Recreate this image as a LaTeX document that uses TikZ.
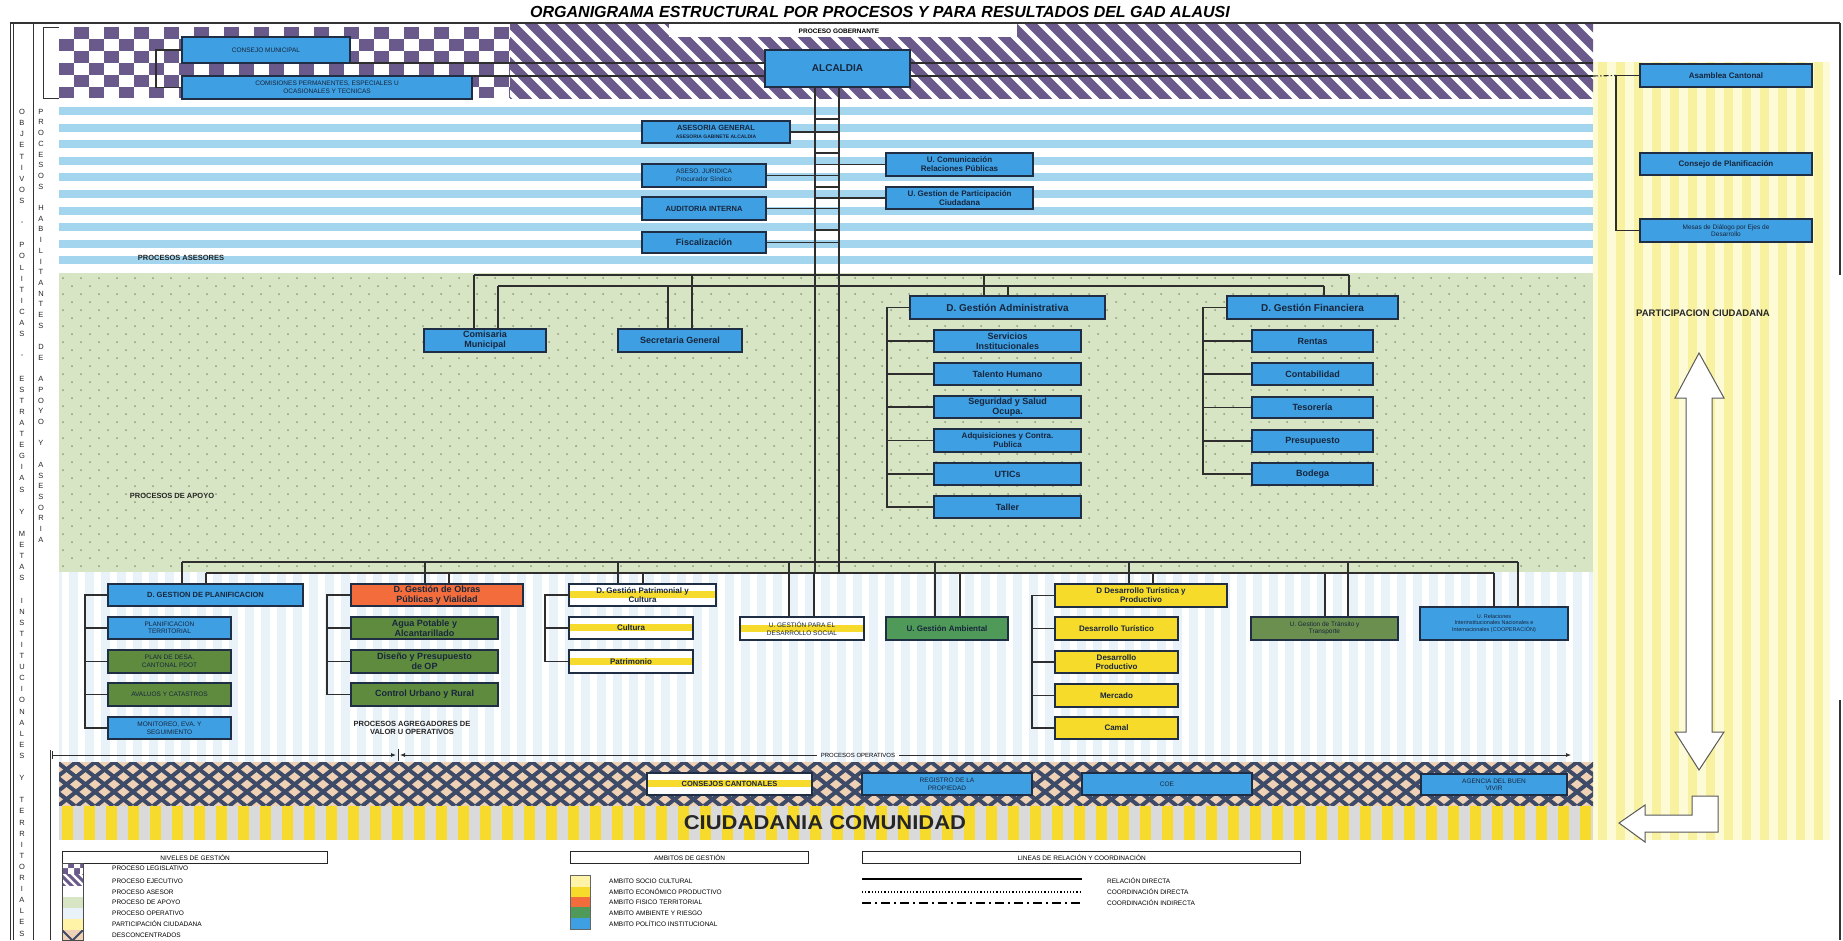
\documentclass[tikz,border=0pt]{standalone}
\usepackage{fontspec}
\setmainfont{Liberation Sans}
\usetikzlibrary{calc,arrows.meta}
\definecolor{purp}{HTML}{6A5A8C}
\definecolor{stripeblue}{HTML}{A3D5EE}
\definecolor{apoyo}{HTML}{D7E5C4}
\definecolor{dotc}{HTML}{8E9C78}
\definecolor{operat}{HTML}{E9F2F9}
\definecolor{peach}{HTML}{EFD2B6}
\definecolor{navy}{HTML}{3E4B68}
\definecolor{yelbar}{HTML}{F6DA2C}
\definecolor{lgrey}{HTML}{DADADA}
\definecolor{pyel}{HTML}{FDFBD6}
\definecolor{pyel2}{HTML}{F8F1A0}
\definecolor{bxblue}{HTML}{3E9FE2}
\definecolor{bxgreen}{HTML}{5F8B3E}
\definecolor{bxgreen2}{HTML}{4F9A58}
\definecolor{bxgreen3}{HTML}{6B8F4E}
\definecolor{bxorange}{HTML}{F26D3B}
\definecolor{bxyellow}{HTML}{F7DB2A}
\definecolor{bxedge}{HTML}{1F2E44}
\definecolor{txt}{HTML}{17263D}
\definecolor{conn}{HTML}{2E2E2E}
\definecolor{lsyel}{HTML}{FFF3A8}
\tikzset{
 bx/.style={draw=bxedge, line width=1.2pt, inner sep=0.5pt, outer sep=0pt, align=center, text=txt, font=\bfseries\fontsize{9}{10}\selectfont},
 bl/.style={fill=bxblue},
 gr/.style={fill=bxgreen},
 gr2/.style={fill=bxgreen2},
 gr3/.style={fill=bxgreen3},
 orng/.style={fill=bxorange},
 yel/.style={fill=bxyellow},
 wy/.style={fill=white, path picture={\fill[yelbar] ([yshift=4pt]path picture bounding box.west) rectangle ([yshift=-3pt]path picture bounding box.east);}},
 sm/.style={font=\fontsize{6.5}{7.5}\selectfont},
 smb/.style={font=\bfseries\fontsize{7.5}{8.5}\selectfont},
 mid/.style={font=\bfseries\fontsize{8}{9}\selectfont},
 tiny/.style={font=\fontsize{5.5}{6.5}\selectfont},
 cn/.style={draw=conn, line width=1.1pt},
 lbl/.style={font=\bfseries\fontsize{7.5}{8.5}\selectfont, text=black!85, align=center},
 leg/.style={font=\fontsize{6.5}{7}\selectfont, anchor=west, inner sep=0pt},
 vt/.style={font=\fontsize{7.5}{8}\selectfont, inner sep=0pt, text=black!85},
 legbox/.style={draw=black!85, line width=1.3pt, anchor=north west, inner sep=0pt, font=\fontsize{6.5}{7}\selectfont, minimum height=12},
}
\newcommand\obox[7]{\node[bx,#6,minimum width={(#4)-(#2)},minimum height={(#5)-(#3)},anchor=north west] (#1) at (#2,#3) {#7};}
\begin{document}
\begin{tikzpicture}[x=1pt,y=-1pt]
\useasboundingbox (0,0) rectangle (1843,940);
\fill[white] (0,0) rectangle (1843,940);

% ---------- right column (participacion)
\fill[pyel] (1593,62) rectangle (1830,840);
\foreach \x in {1598,1616,...,1830} \fill[pyel2] (\x,62) rectangle ++(9,778);

% ---------- top band : checker
\begin{scope}
\clip (59,27) rectangle (510,98);
\fill[purp] (59,27) rectangle (510,98);
\foreach \j in {0,...,5}{
  \pgfmathtruncatemacro\off{mod(\j,2)}
  \foreach \i in {0,...,15}{
    \fill[white] ({59+(2*\i+\off)*15},{27+\j*12}) rectangle ++(15,12);
  }}
\end{scope}
% diagonal stripes
\begin{scope}
\clip (510,23) rectangle (1593,98);
\foreach \x in {420,440,...,1600}
  \draw[purp, line width=9pt] (\x,13) -- ++(95,95);
\end{scope}
\fill[white] (669,23) rectangle (1017,37);

% ---------- asesores
\fill[white] (59,100) rectangle (1593,273);
\foreach \k in {0,...,9} \fill[stripeblue] (59,{107+\k*16.6}) rectangle (1593,{115+\k*16.6});

% ---------- apoyo
\fill[apoyo] (59,273) rectangle (1593,572);
\fill[dotc] \foreach \j in {0,...,36}{ \foreach \i in {0,...,84}{ ({63+\i*18+mod(\j,2)*9},{278+\j*8}) circle (1.0) } };

% ---------- operativos
\fill[operat] (59,572) rectangle (1593,762);
\foreach \x in {62,78,...,1590} \fill[white] (\x,572) rectangle ++(7,190);

% ---------- desconcentrados
\begin{scope}
\clip (59,762) rectangle (1593,806);
\fill[peach] (59,762) rectangle (1593,806);
\foreach \x in {0,19,...,1660} {
  \draw[navy, line width=4pt] (\x,762) -- ++(56,44);
  \draw[navy, line width=4pt] (\x,762) -- ++(-56,44);
}
\end{scope}

% ---------- ciudadania
\fill[lgrey] (59,806) rectangle (1593,840);
\foreach \x in {62,84,...,1590} \fill[yelbar] (\x,806) rectangle ++(11,34);

% ---------- frame
\draw[black!80, line width=1.2pt] (10,23) -- (1840,23);
\draw[black!80, line width=1pt] (10,23) -- (10,940) (13,23) -- (13,940) (33,23) -- (33,940);
\draw[black!80, line width=1pt] (50,750) -- (50,940);
\draw[black!80, line width=1.2pt] (1840,23) -- (1840,275) (1840,700) -- (1840,940);
\draw[black!80, line width=1pt] (59,27) -- (43,27) -- (43,98) -- (59,98);

% ---------- vertical stacked texts
\foreach \c [count=\i] in {O,B,J,E,T,I,V,O,S,,-,,P,O,L,I,T,I,C,A,S,,-,,E,S,T,R,A,T,E,G,I,A,S,,Y,,M,E,T,A,S,,I,N,S,T,I,T,U,C,I,O,N,A,L,E,S,,Y,,T,E,R,R,I,T,O,R,I,A,L,E,S}
  \node[vt] at (22,{101+\i*11.1}) {\c};
\foreach \c [count=\i] in {P,R,O,C,E,S,O,S,,H,A,B,I,L,I,T,A,N,T,E,S,,D,E,,A,P,O,Y,O,,Y,,A,S,E,S,O,R,I,A}
  \node[vt] at (41,{101+\i*10.7}) {\c};

% ---------- titles and labels
\node[font=\bfseries\itshape\fontsize{16}{18}\selectfont, inner sep=0pt] (title) at (880,12) {ORGANIGRAMA ESTRUCTURAL POR PROCESOS Y PARA RESULTADOS DEL GAD ALAUSI};
\node[font=\bfseries\fontsize{6.5}{7}\selectfont] (gob) at (839,31) {PROCESO GOBERNANTE};
\node[lbl] (lasesor) at (181,258) {PROCESOS ASESORES};
\node[lbl] (lapoyo) at (172,496) {PROCESOS DE APOYO};
\node[lbl] (lagreg) at (412,728) {PROCESOS AGREGADORES DE\\VALOR U OPERATIVOS};
\node[lbl, font=\bfseries\fontsize{9.5}{10}\selectfont] (lpart) at (1703,313) {PARTICIPACION CIUDADANA};
\node[font=\fontsize{6}{7}\selectfont, inner sep=4pt] (lops) at (858,755) {PROCESOS OPERATIVOS};
\node[font=\bfseries\fontsize{20}{22}\selectfont, text=black!85] (ciud) at (825,823) {\scalebox{1.1}[1]{CIUDADANIA COMUNIDAD}};

% ---------- boxes
\obox{consejo}{182}{37}{350}{63}{bl,sm}{CONSEJO MUNICIPAL}
\obox{comisiones}{182}{76}{472}{99}{bl,sm}{COMISIONES PERMANENTES, ESPECIALES U\\OCASIONALES Y TECNICAS}
\obox{alcaldia}{765}{50}{910}{87}{bl,font=\bfseries\fontsize{10}{11}\selectfont}{ALCALDIA}

\obox{asesoria}{642}{121}{790}{143}{bl,smb}{ASESORIA GENERAL\\{\fontsize{5}{6}\selectfont ASESORIA GABINETE ALCALDIA}}
\obox{juridica}{642}{164}{766}{187}{bl,sm}{ASESO. JURIDICA\\Procurador Síndico}
\obox{auditoria}{642}{197}{766}{220}{bl,smb}{AUDITORIA INTERNA}
\obox{fiscal}{642}{232}{766}{253}{bl}{Fiscalización}
\obox{comunic}{886}{153}{1033}{176}{bl,mid}{U. Comunicación\\Relaciones Públicas}
\obox{particip}{886}{187}{1033}{209}{bl,mid}{U. Gestion de Participación\\Ciudadana}

\obox{comisaria}{424}{329}{546}{352}{bl}{Comisaria\\Municipal}
\obox{secretaria}{618}{329}{742}{352}{bl}{Secretaria General}
\obox{dadm}{910}{296}{1105}{319}{bl,font=\bfseries\fontsize{10}{11}\selectfont}{D. Gestión Administrativa}
\obox{servicios}{934}{330}{1081}{352}{bl}{Servicios\\Institucionales}
\obox{talento}{934}{363}{1081}{385}{bl}{Talento Humano}
\obox{seguridad}{934}{396}{1081}{418}{bl}{Seguridad y Salud\\Ocupa.}
\obox{adquis}{934}{429}{1081}{452}{bl,mid}{Adquisiciones y Contra.\\Publica}
\obox{utics}{934}{463}{1081}{485}{bl}{UTICs}
\obox{taller}{934}{496}{1081}{518}{bl}{Taller}
\obox{dfin}{1227}{296}{1398}{319}{bl,font=\bfseries\fontsize{10}{11}\selectfont}{D. Gestión Financiera}
\obox{rentas}{1252}{330}{1373}{352}{bl}{Rentas}
\obox{contab}{1252}{363}{1373}{385}{bl}{Contabilidad}
\obox{tesor}{1252}{397}{1373}{418}{bl}{Tesorería}
\obox{presup}{1252}{430}{1373}{452}{bl}{Presupuesto}
\obox{bodega}{1252}{463}{1373}{485}{bl}{Bodega}

\obox{dplan}{108}{584}{303}{606}{bl,smb}{D. GESTION DE PLANIFICACION}
\obox{plant}{108}{617}{231}{639}{bl,sm}{PLANIFICACION\\TERRITORIAL}
\obox{pdot}{108}{650}{231}{673}{gr,sm}{PLAN DE DESA.\\CANTONAL PDOT}
\obox{avaluos}{108}{683}{231}{706}{gr,sm}{AVALUOS Y CATASTROS}
\obox{monit}{108}{717}{231}{739}{bl,sm}{MONITOREO, EVA. Y\\SEGUIMIENTO}
\obox{dobras}{351}{584}{523}{606}{orng}{D. Gestión de Obras\\Públicas y Vialidad}
\obox{agua}{351}{617}{498}{639}{gr}{Agua Potable y\\Alcantarillado}
\obox{diseno}{351}{650}{498}{673}{gr}{Diseño y Presupuesto\\de OP}
\obox{control}{351}{683}{498}{706}{gr}{Control Urbano y Rural}
\obox{dpatri}{569}{584}{716}{606}{wy,mid}{D. Gestión Patrimonial y\\Cultura}
\obox{cultura}{569}{617}{693}{639}{wy,mid}{Cultura}
\obox{patrim}{569}{650}{693}{673}{wy,mid}{Patrimonio}
\obox{dsocial}{740}{617}{864}{640}{wy,sm}{U. GESTIÓN PARA EL\\DESARROLLO SOCIAL}
\obox{ambiental}{886}{617}{1008}{640}{gr2,mid}{U. Gestión Ambiental}
\obox{dturis}{1055}{584}{1227}{607}{yel,mid}{D Desarrollo Turística y\\Productivo}
\obox{desturis}{1055}{617}{1178}{640}{yel,mid}{Desarrollo Turístico}
\obox{desprod}{1055}{651}{1178}{673}{yel,mid}{Desarrollo\\Productivo}
\obox{mercado}{1055}{684}{1178}{707}{yel,mid}{Mercado}
\obox{camal}{1055}{717}{1178}{739}{yel,mid}{Camal}
\obox{transito}{1251}{617}{1398}{640}{gr3,sm}{U. Gestion de Tránsito y\\Transporte}
\obox{relac}{1420}{607}{1568}{640}{bl,tiny}{U. Relaciones\\Interinstitucionales Nacionales e\\Internacionales (COOPERACIÓN)}

\obox{consejos}{647}{773}{812}{795}{wy,smb}{CONSEJOS CANTONALES}
\obox{registro}{862}{773}{1032}{795}{bl,sm}{REGISTRO DE LA\\PROPIEDAD}
\obox{coe}{1082}{773}{1252}{795}{bl,sm}{COE}
\obox{agencia}{1421}{774}{1567}{795}{bl,sm}{AGENCIA DEL BUEN\\VIVIR}

\obox{asamblea}{1640}{64}{1812}{87}{bl,mid}{Asamblea Cantonal}
\obox{consplan}{1640}{153}{1812}{175}{bl,mid}{Consejo de Planificación}
\obox{mesas}{1640}{219}{1812}{242}{bl,sm}{Mesas de Diálogo por Ejes de\\Desarrollo}

% ---------- connectors: gobernante
\coordinate (bandR1) at (1593,63);
\coordinate (bandR2) at (1593,76);
\draw[cn] (consejo.west) -- ++(-26,0) |- (comisiones.west);
\draw[cn] (consejo.south east) -- (consejo.south east -| alcaldia.west);
\draw[cn] (comisiones.north east) -- (comisiones.north east -| alcaldia.west);
\draw[cn] (alcaldia.east |- bandR1) -- (bandR1);
\draw[cn] (alcaldia.east |- bandR2) -- (bandR2);
\draw[cn, dash pattern=on 5pt off 2pt on 1.5pt off 2pt] (bandR2) -- ($(asamblea.west)+(-24,0)$);
\draw[cn] (asamblea.west) -- ++(-24,0) |- (mesas.west);

% ---------- main verticals and buses
\coordinate (vA) at (815,0);
\coordinate (vB) at (839,0);
\coordinate (apA) at (474,275);  \coordinate (apAe) at (1349,275);
\coordinate (apB) at (498,286);  \coordinate (apBe) at (1324,286);
\coordinate (opA) at (182,562);  \coordinate (opAe) at (1518,562);
\coordinate (opB) at (206,573);  \coordinate (opBe) at (1494,573);
\draw[cn] (alcaldia.south -| vA) -- (vA |- opB);
\draw[cn] (alcaldia.south -| vB) -- (vB |- opB);
\draw[cn] (apA) -- (apAe);
\draw[cn] (apB) -- (apBe);
\draw[cn] (opA) -- (opAe);
\draw[cn] (opB) -- (opBe);

% asesores
\draw[cn] (asesoria.east) -- (asesoria.east -| vB);
\draw[cn] (juridica.east) -- (juridica.east -| vB);
\draw[cn] (auditoria.east) -- (auditoria.east -| vB);
\draw[cn] (fiscal.east) -- (fiscal.east -| vB);
\draw[cn] (comunic.west) -- (comunic.west -| vA);
\draw[cn] (particip.west) -- (particip.west -| vA);
\foreach \yy in {119,153,187,230} \draw[cn] (vA |- 0,\yy) -- (vB |- 0,\yy);

% apoyo drops
\draw[cn] ($(comisaria.north)+(-11,0)$) |- (apA);
\draw[cn] ($(comisaria.north)+(13,0)$) |- (apB);
\draw[cn] ($(secretaria.north)+(-12,0)$) |- (apB);
\draw[cn] ($(secretaria.north)+(12,0)$) |- (apA);
\draw[cn] ($(dadm.north)+(-23.5,0)$) |- (apA);
\draw[cn] ($(dadm.north)+(0.5,0)$) |- (apB);
\draw[cn] ($(dfin.north)+(11.5,0)$) |- (apBe);
\draw[cn] ($(dfin.north)+(36.5,0)$) |- (apAe);
% apoyo brackets
\draw[cn] (dadm.west) -- ++(-23,0) |- (taller.west);
\foreach \n in {servicios,talento,seguridad,adquis,utics} \draw[cn] (\n.west) -- ++(-47,0);
\draw[cn] (dfin.west) -- ++(-24,0) |- (bodega.west);
\foreach \n in {rentas,contab,tesor,presup} \draw[cn] (\n.west) -- ++(-49,0);

% operativos drops
\draw[cn] ($(dplan.north)+(-23.5,0)$) |- (opA);
\draw[cn] ($(dplan.north)+(0.5,0)$) |- (opB);
\draw[cn] ($(dobras.north)+(-12,0)$) |- (opA);
\draw[cn] ($(dobras.north)+(12,0)$) |- (opB);
\draw[cn] ($(dpatri.north)+(-24.5,0)$) |- (opA);
\draw[cn] ($(dpatri.north)+(0.5,0)$) |- (opB);
\draw[cn] ($(dsocial.north)+(-13,0)$) |- (opA);
\draw[cn] ($(dsocial.north)+(12,0)$) |- (opB);
\draw[cn] ($(ambiental.north)+(-12,0)$) |- (opA);
\draw[cn] ($(ambiental.north)+(13,0)$) |- (opB);
\draw[cn] ($(dturis.north)+(-12,0)$) |- (opA);
\draw[cn] ($(dturis.north)+(12,0)$) |- (opB);
\draw[cn] ($(transito.north)+(0.5,0)$) |- (opBe);
\draw[cn] ($(transito.north)+(23.5,0)$) |- (opAe);
\draw[cn] ($(relac.north)+(0,0)$) |- (opBe);
\draw[cn] ($(relac.north)+(24,0)$) |- (opAe);
% operativos brackets
\draw[cn] (dplan.west) -- ++(-23,0) |- (monit.west);
\foreach \n in {plant,pdot,avaluos} \draw[cn] (\n.west) -- ++(-23,0);
\draw[cn] (dobras.west) -- ++(-24,0) |- (control.west);
\foreach \n in {agua,diseno} \draw[cn] (\n.west) -- ++(-24,0);
\draw[cn] (dpatri.west) -- ++(-24,0) |- (patrim.west);
\draw[cn] (cultura.west) -- ++(-24,0);
\draw[cn] (dturis.west) -- ++(-23,0) |- (camal.west);
\foreach \n in {desturis,desprod,mercado} \draw[cn] (\n.west) -- ++(-23,0);

% ---------- operative arrow line
\coordinate (arL) at (52,755);
\coordinate (arM) at (398,755);
\coordinate (arR) at (1571,755);
\draw[conn, line width=0.8pt, -{Latex[length=5pt,width=4pt]}] (arL) -- ($(arM)+(-2,0)$);
\draw[conn, line width=0.8pt, -{Latex[length=5pt,width=4pt]}] (lops.west) -- ($(arM)+(2,0)$);
\draw[conn, line width=0.8pt, -{Latex[length=5pt,width=4pt]}] (lops.east) -- (arR);
\draw[conn, line width=1pt] ($(arM)+(0,-6)$) -- ($(arM)+(0,6)$);
\draw[conn, line width=1pt] ($(arL)+(0,-4)$) -- ($(arL)+(0,4)$);

% ---------- big arrows in participation column
\draw[fill=white, draw=black!65, line width=1pt] (1699,353) -- (1724,398) -- (1712,398) -- (1712,732) -- (1724,732) -- (1699,770) -- (1675,732) -- (1686,732) -- (1686,398) -- (1675,398) -- cycle;
\draw[fill=white, draw=black!65, line width=1pt] (1692,796) -- (1718,796) -- (1718,832) -- (1645,832) -- (1645,842) -- (1619,823) -- (1645,805) -- (1645,815) -- (1692,815) -- cycle;

% ---------- legend
\node[legbox, minimum width=265] (hniv) at (62,851) {NIVELES DE GESTIÓN};
\node[legbox, minimum width=238] (hamb) at (570,851) {AMBITOS DE GESTIÓN};
\node[legbox, minimum width=438] (hlin) at (862,851) {LINEAS DE RELACIÓN Y COORDINACIÓN};
% left swatches
\begin{scope}
\clip (62,863) rectangle (83,874);
\fill[purp] (62,863) rectangle (83,874);
\fill[white] (62,863) rectangle (68,868) (74,863) rectangle (80,868) (68,868) rectangle (74,874) (80,868) rectangle (86,874);
\end{scope}
\begin{scope}
\clip (62,874) rectangle (83,886);
\fill[white] (62,874) rectangle (83,886);
\foreach \x in {50,58,...,86} \draw[purp, line width=3pt] (\x,872) -- ++(16,16);
\end{scope}
\fill[white] (62,886) rectangle (83,897);
\fill[apoyo] (62,897) rectangle (83,908);
\fill[operat] (62,908) rectangle (83,919);
\fill[lsyel] (62,919) rectangle (83,930);
\begin{scope}
\clip (62,930) rectangle (83,940);
\fill[peach] (62,930) rectangle (83,940);
\draw[navy, line width=2pt] (62,930) -- (72,940) (83,930) -- (73,940);
\end{scope}
\draw[black!70, line width=0.8pt] (62,863) rectangle (83,940);
\node[leg] (l1) at (112,868) {PROCESO LEGISLATIVO};
\node[leg] (l2) at (112,881) {PROCESO EJECUTIVO};
\node[leg] (l3) at (112,892) {PROCESO ASESOR};
\node[leg] (l4) at (112,902) {PROCESO DE APOYO};
\node[leg] (l5) at (112,913) {PROCESO OPERATIVO};
\node[leg] (l6) at (112,924) {PARTICIPACIÓN CIUDADANA};
\node[leg] (l7) at (112,935) {DESCONCENTRADOS};
% ambitos
\fill[lsyel] (570,875) rectangle (590,887);
\fill[bxyellow] (570,887) rectangle (590,897);
\fill[bxorange] (570,897) rectangle (590,907);
\fill[bxgreen2] (570,907) rectangle (590,918);
\fill[bxblue] (570,918) rectangle (590,929);
\draw[black!60, line width=0.6pt] (570,875) rectangle (590,929);
\node[leg] (a1) at (609,881) {AMBITO SOCIO CULTURAL};
\node[leg] (a2) at (609,892) {AMBITO ECONÓMICO PRODUCTIVO};
\node[leg] (a3) at (609,902) {AMBITO FISICO TERRITORIAL};
\node[leg] (a4) at (609,913) {AMBITO AMBIENTE Y RIESGO};
\node[leg] (a5) at (609,924) {AMBITO POLÍTICO INSTITUCIONAL};
% lines
\draw[black, line width=2.4pt] (862,879) -- ++(220,0);
\draw[black, line width=1.2pt, dotted] (862,892) -- ++(220,0);
\draw[black, line width=2.5pt, dash pattern=on 9pt off 4pt on 2pt off 4pt] (862,903) -- ++(220,0);
\node[leg] (r1) at (1107,881) {RELACIÓN DIRECTA};
\node[leg] (r2) at (1107,892) {COORDINACIÓN DIRECTA};
\node[leg] (r3) at (1107,903) {COORDINACIÓN INDIRECTA};
\end{tikzpicture}
\end{document}
